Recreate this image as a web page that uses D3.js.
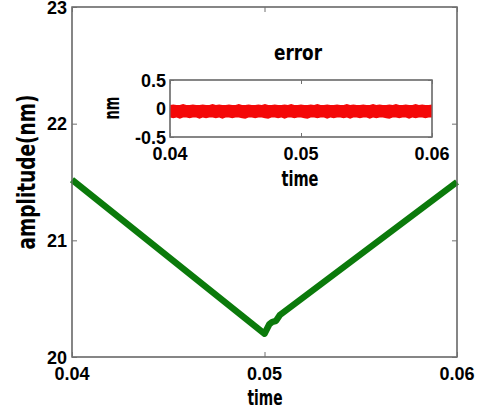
<!DOCTYPE html>
<html><head><meta charset="utf-8">
<script src="https://cdn.jsdelivr.net/npm/d3@7"></script>
<style>
html,body{margin:0;padding:0;background:#fff;}
svg{display:block;}
.tick-label{font-family:"Liberation Sans",Arial,sans-serif;font-weight:bold;font-size:18px;fill:#000;}
.lbl{font-family:"Liberation Sans Narrow","DejaVu Sans Condensed",sans-serif;font-weight:bold;fill:#000;}
</style></head>
<body>
<svg id="chart" width="478" height="414"></svg>
<script>
// ---- data ----
const mainTime = [0.04, 0.05, 0.05025, 0.0504, 0.0506, 0.0508, 0.06];
const mainAmp  = [21.52, 20.20, 20.28, 20.30, 20.31, 20.36, 21.50];
const mainXTicks = [0.04, 0.05, 0.06];
const mainYTicks = [20, 21, 22, 23];

const errTime = [0.04000,0.04025,0.04050,0.04075,0.04100,0.04125,0.04150,0.04175,0.04200,0.04225,
                 0.04250,0.04275,0.04300,0.04325,0.04350,0.04375,0.04400,0.04425,0.04450,0.04475,
                 0.04500,0.04525,0.04550,0.04575,0.04600,0.04625,0.04650,0.04675,0.04700,0.04725,
                 0.04750,0.04775,0.04800,0.04825,0.04850,0.04875,0.04900,0.04925,0.04950,0.04975,
                 0.05000,0.05025,0.05050,0.05075,0.05100,0.05125,0.05150,0.05175,0.05200,0.05225,
                 0.05250,0.05275,0.05300,0.05325,0.05350,0.05375,0.05400,0.05425,0.05450,0.05475,
                 0.05500,0.05525,0.05550,0.05575,0.05600,0.05625,0.05650,0.05675,0.05700,0.05725,
                 0.05750,0.05775,0.05800,0.05825,0.05850,0.05875,0.05900,0.05925,0.05950,0.05975,0.06000];
const errHi = [0.06,0.07,0.06,0.06,0.08,0.06,0.06,0.07,0.06,0.06,
               0.07,0.06,0.06,0.08,0.06,0.07,0.06,0.06,0.07,0.06,
               0.06,0.08,0.06,0.06,0.07,0.06,0.06,0.07,0.06,0.08,
               0.06,0.06,0.07,0.06,0.06,0.07,0.06,0.08,0.06,0.06,
               0.07,0.06,0.06,0.07,0.06,0.08,0.06,0.06,0.07,0.06,
               0.06,0.07,0.06,0.06,0.08,0.06,0.07,0.06,0.06,0.07,
               0.06,0.06,0.08,0.06,0.07,0.06,0.06,0.07,0.06,0.08,
               0.06,0.06,0.07,0.06,0.06,0.08,0.06,0.07,0.06,0.06,0.07];
const errLo = [-0.16,-0.17,-0.16,-0.18,-0.16,-0.16,-0.17,-0.16,-0.16,-0.18,
               -0.16,-0.17,-0.16,-0.16,-0.17,-0.16,-0.18,-0.16,-0.16,-0.17,
               -0.16,-0.16,-0.17,-0.18,-0.16,-0.16,-0.17,-0.16,-0.16,-0.17,
               -0.18,-0.16,-0.16,-0.17,-0.16,-0.18,-0.16,-0.16,-0.17,-0.16,
               -0.16,-0.17,-0.18,-0.16,-0.16,-0.17,-0.16,-0.16,-0.18,-0.16,
               -0.17,-0.16,-0.16,-0.17,-0.16,-0.18,-0.16,-0.16,-0.17,-0.16,
               -0.16,-0.18,-0.16,-0.17,-0.16,-0.16,-0.17,-0.18,-0.16,-0.16,
               -0.17,-0.16,-0.16,-0.18,-0.16,-0.17,-0.16,-0.16,-0.17,-0.16,-0.16];
const errXTicks = [0.04, 0.05, 0.06];
const errYTicks = [-0.5, 0, 0.5];

// ---- layout ----
const svg = d3.select("#chart");
const M = {l:72, r:457, t:7, b:357};
const I = {l:170, r:432, t:80, b:137};
const axisColor = "#707070";

const x = d3.scaleLinear().domain([0.04,0.06]).range([M.l,M.r]);
const y = d3.scaleLinear().domain([20,23]).range([M.b,M.t]);

svg.append("rect").attr("x",M.l).attr("y",M.t).attr("width",M.r-M.l).attr("height",M.b-M.t)
  .attr("fill","#fff").attr("stroke",axisColor).attr("stroke-width",1.2);

function inwardTicks(g, axis){ g.call(axis); g.select(".domain").remove(); g.selectAll("text").remove(); g.selectAll("line").attr("stroke",axisColor); }
svg.append("g").attr("transform",`translate(0,${M.b})`).call(g=>inwardTicks(g,d3.axisTop(x).tickValues(mainXTicks).tickSize(5)));
svg.append("g").attr("transform",`translate(0,${M.t})`).call(g=>inwardTicks(g,d3.axisBottom(x).tickValues(mainXTicks).tickSize(5)));
svg.append("g").attr("transform",`translate(${M.l},0)`).call(g=>inwardTicks(g,d3.axisRight(y).tickValues(mainYTicks).tickSize(5)));
svg.append("g").attr("transform",`translate(${M.r},0)`).call(g=>inwardTicks(g,d3.axisLeft(y).tickValues(mainYTicks).tickSize(5)));

const line = d3.line().x((d,i)=>x(mainTime[i])).y((d,i)=>y(mainAmp[i]));
svg.append("path").datum(mainAmp).attr("d",line).attr("fill","none")
  .attr("stroke","#0b7a0b").attr("stroke-width",6.5).attr("stroke-linejoin","round").attr("stroke-linecap","butt");

svg.append("rect").attr("x",M.l).attr("y",M.t).attr("width",M.r-M.l).attr("height",M.b-M.t)
  .attr("fill","none").attr("stroke",axisColor).attr("stroke-width",1.2);

svg.selectAll(".mxl").data(mainXTicks).enter().append("text").attr("class","tick-label")
  .attr("x",d=>x(d)).attr("y",380).attr("text-anchor","middle").text(d=>d.toFixed(2));
svg.selectAll(".myl").data(mainYTicks).enter().append("text").attr("class","tick-label")
  .attr("x",67).attr("y",d=>y(d)+6.5).attr("text-anchor","end").text(d=>d);

svg.append("text").attr("class","lbl").attr("font-size",22)
  .attr("x",265).attr("y",405).attr("text-anchor","middle")
  .attr("textLength",35).attr("lengthAdjust","spacingAndGlyphs").text("time");
svg.append("text").attr("class","lbl").attr("font-size",25)
  .attr("transform","translate(35,172) rotate(-90)").attr("text-anchor","middle")
  .attr("textLength",155).attr("lengthAdjust","spacingAndGlyphs").text("amplitude(nm)");

// ---- inset ----
const xi = d3.scaleLinear().domain([0.04,0.06]).range([I.l,I.r]);
const yi = d3.scaleLinear().domain([-0.5,0.5]).range([I.b,I.t]);
svg.append("rect").attr("x",I.l).attr("y",I.t).attr("width",I.r-I.l).attr("height",I.b-I.t)
  .attr("fill","#fff").attr("stroke",axisColor).attr("stroke-width",1.2);
svg.append("g").attr("transform",`translate(0,${I.b})`).call(g=>inwardTicks(g,d3.axisTop(xi).tickValues(errXTicks).tickSize(4)));
svg.append("g").attr("transform",`translate(0,${I.t})`).call(g=>inwardTicks(g,d3.axisBottom(xi).tickValues(errXTicks).tickSize(4)));
svg.append("g").attr("transform",`translate(${I.l},0)`).call(g=>inwardTicks(g,d3.axisRight(yi).tickValues(errYTicks).tickSize(4)));
svg.append("g").attr("transform",`translate(${I.r},0)`).call(g=>inwardTicks(g,d3.axisLeft(yi).tickValues(errYTicks).tickSize(4)));

const area = d3.area().x((d,i)=>xi(errTime[i])).y0((d,i)=>yi(errLo[i])).y1((d,i)=>yi(errHi[i]));
svg.append("path").datum(errHi).attr("d",area).attr("fill","#f40808").attr("stroke","none");
svg.append("rect").attr("x",I.l).attr("y",I.t).attr("width",I.r-I.l).attr("height",I.b-I.t)
  .attr("fill","none").attr("stroke",axisColor).attr("stroke-width",1.2);

svg.selectAll(".ixl").data(errXTicks).enter().append("text").attr("class","tick-label")
  .attr("x",d=>xi(d)).attr("y",160).attr("text-anchor","middle").text(d=>d.toFixed(2));
svg.selectAll(".iyl").data(errYTicks).enter().append("text").attr("class","tick-label")
  .attr("x",166).attr("y",d=>yi(d)+6.5).attr("text-anchor","end").text(d=>d);

svg.append("text").attr("class","lbl").attr("font-size",22)
  .attr("x",300).attr("y",186).attr("text-anchor","middle")
  .attr("textLength",37).attr("lengthAdjust","spacingAndGlyphs").text("time");
svg.append("text").attr("class","lbl").attr("font-size",22)
  .attr("x",298).attr("y",60).attr("text-anchor","middle")
  .attr("textLength",48).attr("lengthAdjust","spacingAndGlyphs").text("error");
svg.append("text").attr("class","lbl").attr("font-size",22)
  .attr("transform","translate(119,108) rotate(-90)").attr("text-anchor","middle")
  .attr("textLength",23).attr("lengthAdjust","spacingAndGlyphs").text("nm");
</script>
</body></html>
